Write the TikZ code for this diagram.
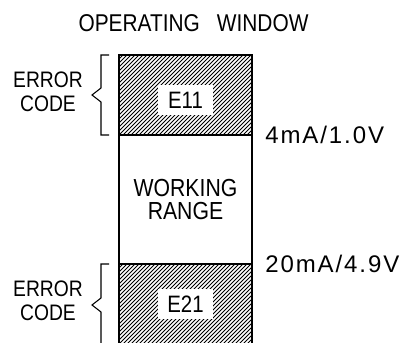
\documentclass[tikz,border=0pt]{standalone}
\usepackage{fontspec}
\setmainfont{Liberation Sans}
\newfontfamily\cadfont[FakeStretch=0.86]{Liberation Sans}
\newfontfamily\spacedsans[LetterSpace=8]{Liberation Sans}
\usetikzlibrary{positioning}

\begin{document}
\begin{tikzpicture}[
        x=0.75pt, y=-0.75pt,
        zone/.style={
            rectangle,
            draw=black,
            line width=1.1pt,
            inner sep=0pt,
            outer sep=0pt,
            minimum width=99.75pt
        },
        hatched/.style={
            path picture={
                \foreach \k in {-22,...,36}
                    \draw[line width=0.75pt] ([xshift=\k*3pt]path picture bounding box.south west) -- ++(64pt,64pt);
            }
        },
        code/.style={
            fill=white,
            inner sep=0pt,
            minimum width=41pt,
            minimum height=22.5pt,
            font=\cadfont\fontsize{17.8}{20}\selectfont
        },
        side/.style={
            align=center,
            inner sep=0pt,
            font=\cadfont\fontsize{16.8}{17.7}\selectfont
        },
        level/.style={
            inner sep=0pt,
            font=\spacedsans\fontsize{18}{20}\selectfont
        },
        brace/.style={line width=0.8pt}
    ]
    \useasboundingbox (0,0) rectangle (404,343);

    \node (title) [inner sep=0pt, font=\cadfont\fontsize{18.2}{20}\selectfont] at (193.5,23) {OPERATING\hspace{12.75pt}WINDOW};

    \node (upper) [zone, hatched, minimum height=60pt] at (185.5,95) {};
    \node (middle) [zone, minimum height=96.75pt, below=0pt of upper] {};
    \node (lower) [zone, hatched, minimum height=60pt, below=0pt of middle] {};

    \node (e11) [code, yshift=-3.75pt] at (upper) {E11};
    \node (e21) [code] at (lower) {E21};
    \node (range) [align=center, inner sep=0pt, font=\cadfont\fontsize{18.5}{17.6}\selectfont] at (middle) {WORKING\\RANGE};

    \node (low) [level, right=9.75pt of upper.south east] {4mA/1.0V};
    \node (high) [level, right=9.75pt of lower.north east] {20mA/4.9V};

    \node (err1) [side, left=27pt of upper.west, yshift=2.6pt] {ERROR\\CODE};
    \node (err2) [side, left=27pt of lower.west, yshift=2.6pt] {ERROR\\CODE};

    % brackets
    \draw [brace] (109,55) -- (101,55) -- (101,88) -- (92,95) -- (101,102) -- (101,135) -- (109,135);
    \draw [brace] (109,264) -- (101,264) -- (101,298) -- (92,305) -- (101,312) -- (101,350);

\end{tikzpicture}
\end{document}
